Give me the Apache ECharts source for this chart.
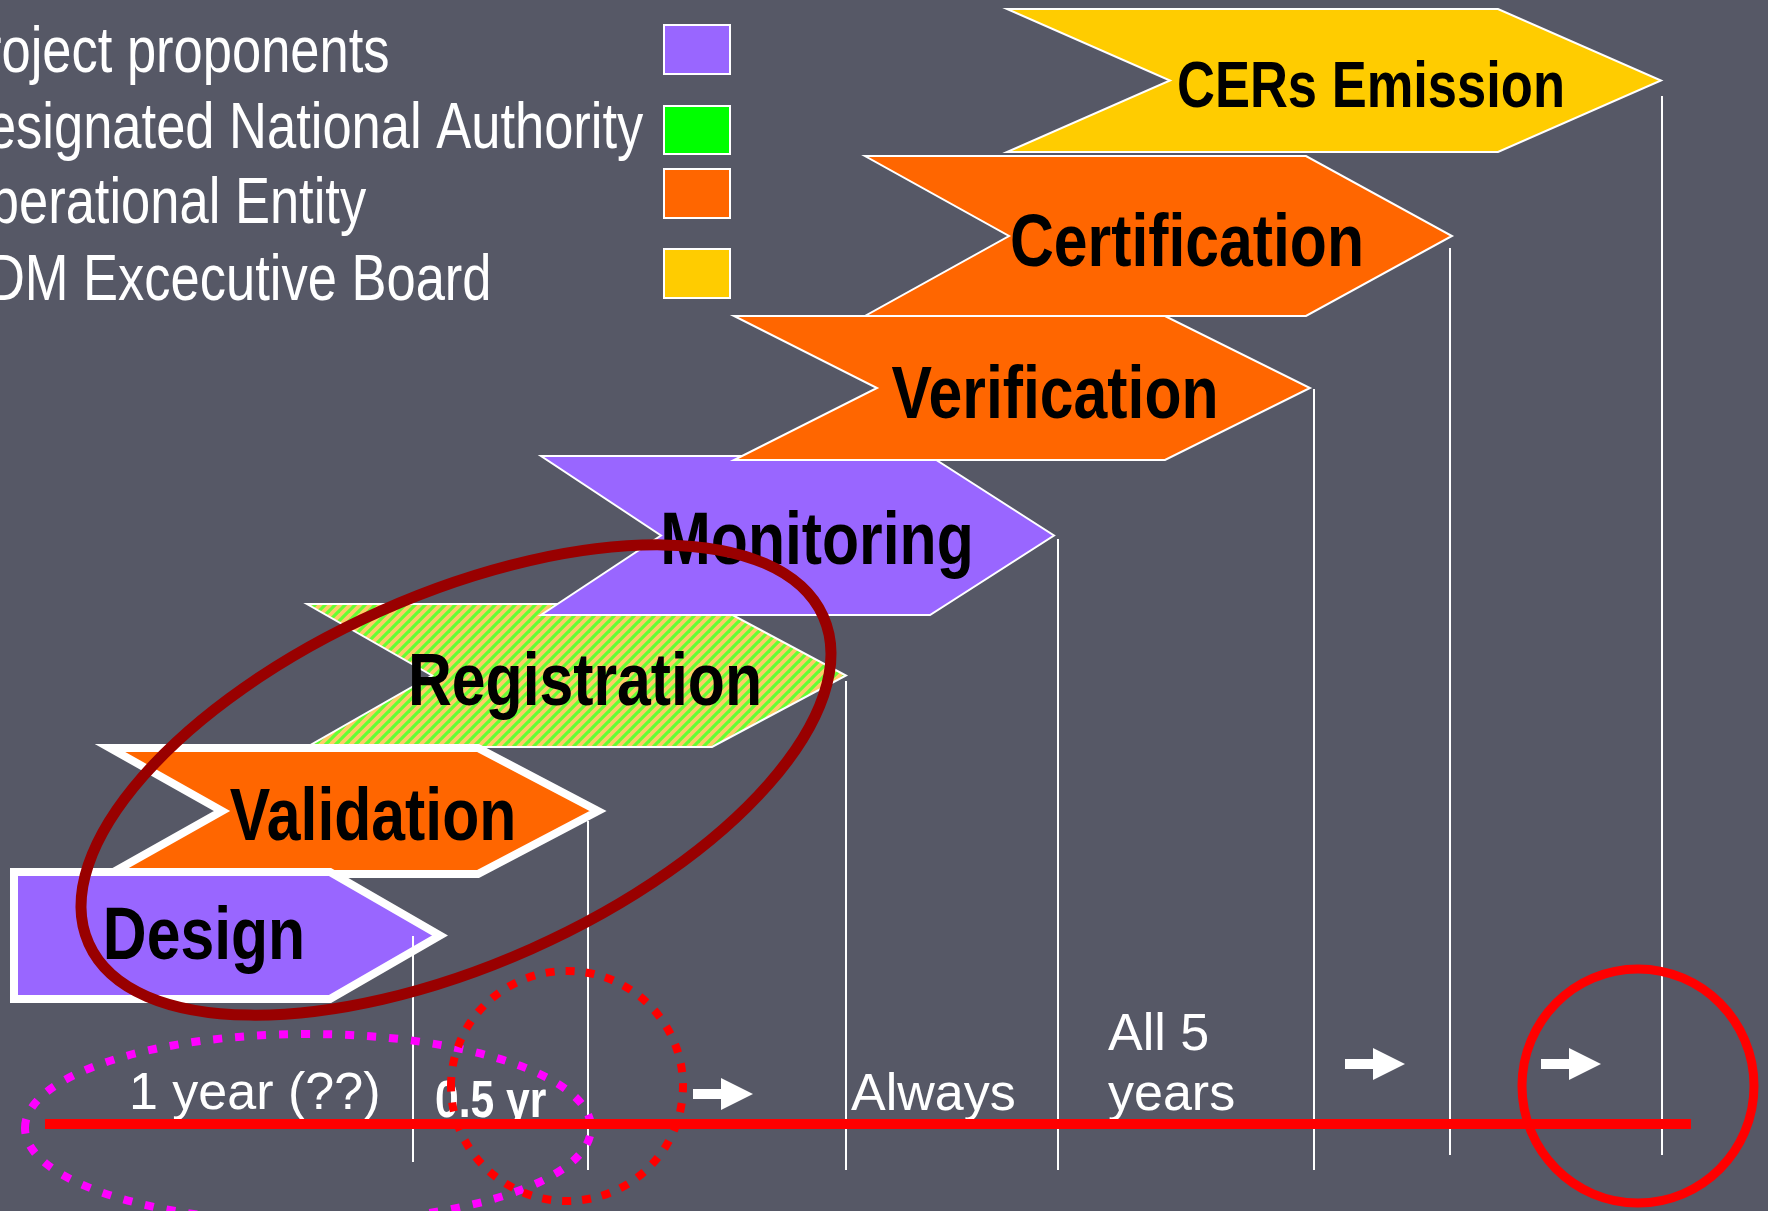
<!DOCTYPE html>
<html>
<head>
<meta charset="utf-8">
<title>CDM project cycle</title>
<script src="https://cdn.jsdelivr.net/npm/echarts@6/dist/echarts.min.js"></script>
<style>
  html, body { margin: 0; padding: 0; background: #565866; }
  #chart { width: 1768px; height: 1211px; }
</style>
</head>
<body>
<div id="chart"></div>
<script>
// stage chevrons (diagram units = x/y of the slide, y grows downwards)
const stageNames = ['Design', 'Validation', 'Registration', 'Monitoring', 'Verification', 'Certification', 'CERs Emission'];
const stageOwner = ['pp', 'oe', 'dna_eb', 'pp', 'oe', 'oe', 'eb'];
const stageTop = [872, 748, 604, 456, 316, 156, 9];
const stageBottom = [999, 874, 747, 615, 460, 316, 152];
const stageLeft = [14, 110, 307, 541, 734, 865, 1007];
const stageNotch = [14, 222, 432, 661, 877, 1009, 1170];
const stageRight = [330, 478, 712, 930, 1165, 1306, 1498];
const stageTip = [440, 598, 846, 1054, 1310, 1452, 1661];
const stageLabelX = [204, 373, 585, 817, 1055, 1187, 1371];
const stageLabelY = [932, 813, 678, 537, 391, 239, 82];

// milestone drop lines
const milestoneX = [413, 588, 846, 1058, 1314, 1450, 1662];
const milestoneTop = [936, 821, 681, 539, 389, 248, 96];
const milestoneBottom = [1162, 1170, 1170, 1170, 1170, 1155, 1155];

// time axis
const timelineX = [45, 1691];
const timelineY = [1124, 1124];

// duration labels
const durationText = ['1 year (??)', '0.5 yr', 'Always', 'All 5', 'years'];
const durationX = [129, 435, 851, 1108, 1108];
const durationBaseline = [1109, 1117, 1110, 1050, 1110];
const durationBold = [false, true, false, false, false];

// small arrows (left end, middle y)
const arrowX = [693, 1345, 1541];
const arrowY = [1094, 1064, 1064];

// legend
const legendNames = ['Project proponents', 'Designated National Authority', 'Operational Entity', 'CDM Excecutive Board'];
const legendKeys = ['pp', 'dna', 'oe', 'eb'];
const legendBaseline = [72, 148, 223, 300];
const legendBoxTop = [25, 106, 169, 249];
const legendBoxBottom = [74, 154, 218, 298];
const legendBoxX = [664, 730];
const legendTextX = -51;

// hand drawn rings
const ringCx = [456, 308, 567, 1638];
const ringCy = [780, 1128, 1086, 1086];
const ringRx = [402, 283, 116, 116];
const ringRy = [185, 94, 115, 117];
const ringAngle = [24, 0, 0, 0];
const ringKind = ['darkred', 'magenta', 'reddot', 'red'];

const ownerColor = {
  pp: '#9966FF',
  dna: '#00FF00',
  oe: '#FF6600',
  eb: '#FFCC00'
};
const ringStyle = {
  darkred: { stroke: '#990000', lineWidth: 11 },
  magenta: { stroke: '#FF00FF', lineWidth: 8, lineDash: [9, 13] },
  reddot: { stroke: '#FF0000', lineWidth: 8, lineDash: [9, 11] },
  red: { stroke: '#FF0000', lineWidth: 9 }
};
// no narrow face installed: squeeze Liberation Sans like Arial Narrow
const sans = '"Liberation Sans", Arial, sans-serif';
const NARROW = 0.82;

// striped fill for registration (DNA green + EB yellow)
function stripes() {
  const c = document.createElement('canvas');
  c.width = 10;
  c.height = 10;
  const ctx = c.getContext('2d');
  ctx.fillStyle = '#FFCC66';
  ctx.fillRect(0, 0, 10, 10);
  ctx.strokeStyle = '#66FF33';
  ctx.lineWidth = 3.2;
  [[-5, 5, 5, -5], [0, 10, 10, 0], [5, 15, 15, 5]].forEach(function (s) {
    ctx.beginPath();
    ctx.moveTo(s[0], s[1]);
    ctx.lineTo(s[2], s[3]);
    ctx.stroke();
  });
  return { image: c, repeat: 'repeat' };
}
const stripeFill = stripes();

function fillOf(owner) {
  return owner === 'dna_eb' ? stripeFill : ownerColor[owner];
}

const idx = function (arr) { return arr.map(function (_, i) { return i; }); };

// text element squeezed horizontally around its anchor
function label(p, text, font, fill, align, squeeze) {
  return {
    type: 'text',
    x: p[0],
    y: p[1],
    scaleX: squeeze ? NARROW : 1,
    style: { text: text, x: 0, y: 0, font: font, fill: fill, align: align, verticalAlign: 'middle' }
  };
}

let chart = echarts.init(document.getElementById('chart'), null, { renderer: 'canvas' });

// draw order: registration first, then upwards, then validation and design on top
const stageOrder = [2, 3, 4, 5, 6, 1, 0];

chart.setOption({
  backgroundColor: '#565866',
  animation: false,
  grid: { left: 0, right: 0, top: 0, bottom: 0 },
  xAxis: { type: 'value', min: 0, max: 1768, show: false },
  yAxis: { type: 'value', min: 0, max: 1211, inverse: true, show: false },
  series: [
    {
      name: 'legend',
      type: 'custom',
      data: idx(legendNames),
      renderItem: function (params, api) {
        const i = params.dataIndex;
        const p0 = api.coord([legendBoxX[0], legendBoxTop[i]]);
        const p1 = api.coord([legendBoxX[1], legendBoxBottom[i]]);
        const t = api.coord([legendTextX, legendBaseline[i]]);
        return {
          type: 'group',
          children: [
            {
              type: 'rect',
              shape: { x: p0[0], y: p0[1], width: p1[0] - p0[0], height: p1[1] - p0[1] },
              style: { fill: ownerColor[legendKeys[i]], stroke: '#fff', lineWidth: 2 }
            },
            label([t[0], t[1] - 18], legendNames[i], '64px ' + sans, '#fff', 'left', true)
          ]
        };
      }
    },
    {
      name: 'stages',
      type: 'custom',
      data: stageOrder,
      renderItem: function (params, api) {
        const i = stageOrder[params.dataIndex];
        const mid = (stageTop[i] + stageBottom[i]) / 2;
        const pts = [
          [stageLeft[i], stageTop[i]],
          [stageRight[i], stageTop[i]],
          [stageTip[i], mid],
          [stageRight[i], stageBottom[i]],
          [stageLeft[i], stageBottom[i]],
          [stageNotch[i], mid]
        ].map(function (p) { return api.coord(p); });
        const thick = i <= 1;
        const lab = api.coord([stageLabelX[i], stageLabelY[i]]);
        return {
          type: 'group',
          children: [
            {
              type: 'polygon',
              shape: { points: pts },
              style: {
                fill: fillOf(stageOwner[i]),
                stroke: '#fff',
                lineWidth: thick ? 8 : 2,
                lineJoin: 'miter'
              }
            },
            label([lab[0], lab[1] + 7], stageNames[i], 'bold ' + (i === 6 ? 64 : 74) + 'px ' + sans, '#000', 'center', true)
          ]
        };
      }
    },
    {
      name: 'timeline',
      type: 'line',
      data: [[timelineX[0], timelineY[0]], [timelineX[1], timelineY[1]]],
      symbol: 'none',
      lineStyle: { color: '#FF0000', width: 10, cap: 'butt' },
      silent: true
    },
    {
      name: 'milestones',
      type: 'custom',
      data: idx(milestoneX),
      renderItem: function (params, api) {
        const i = params.dataIndex;
        const a = api.coord([milestoneX[i], milestoneTop[i]]);
        const b = api.coord([milestoneX[i], milestoneBottom[i]]);
        return {
          type: 'line',
          shape: { x1: a[0], y1: a[1], x2: b[0], y2: b[1] },
          style: { stroke: '#fff', lineWidth: 2 }
        };
      }
    },
    {
      name: 'durations',
      type: 'custom',
      data: idx(durationText),
      renderItem: function (params, api) {
        const i = params.dataIndex;
        const p = api.coord([durationX[i], durationBaseline[i]]);
        return label([p[0], p[1] - 14], durationText[i],
          (durationBold[i] ? 'bold ' : '') + '52px ' + sans, '#fff', 'left', durationBold[i]);
      }
    },
    {
      name: 'arrows',
      type: 'custom',
      data: idx(arrowX),
      renderItem: function (params, api) {
        const i = params.dataIndex;
        const x = arrowX[i], y = arrowY[i];
        const pts = [
          [x, y - 5], [x + 28, y - 5], [x + 28, y - 16], [x + 60, y],
          [x + 28, y + 16], [x + 28, y + 5], [x, y + 5]
        ].map(function (p) { return api.coord(p); });
        return { type: 'polygon', shape: { points: pts }, style: { fill: '#fff' } };
      }
    },
    {
      name: 'rings',
      type: 'custom',
      data: idx(ringCx),
      renderItem: function (params, api) {
        const i = params.dataIndex;
        const c = api.coord([ringCx[i], ringCy[i]]);
        const r = api.size([ringRx[i], ringRy[i]]);
        const st = ringStyle[ringKind[i]];
        return {
          type: 'ellipse',
          shape: { cx: c[0], cy: c[1], rx: r[0], ry: r[1] },
          originX: c[0],
          originY: c[1],
          rotation: ringAngle[i] * Math.PI / 180,
          style: {
            fill: 'none',
            stroke: st.stroke,
            lineWidth: st.lineWidth,
            lineDash: st.lineDash || null,
            lineCap: 'butt'
          }
        };
      }
    }
  ]
});
</script>
</body>
</html>
